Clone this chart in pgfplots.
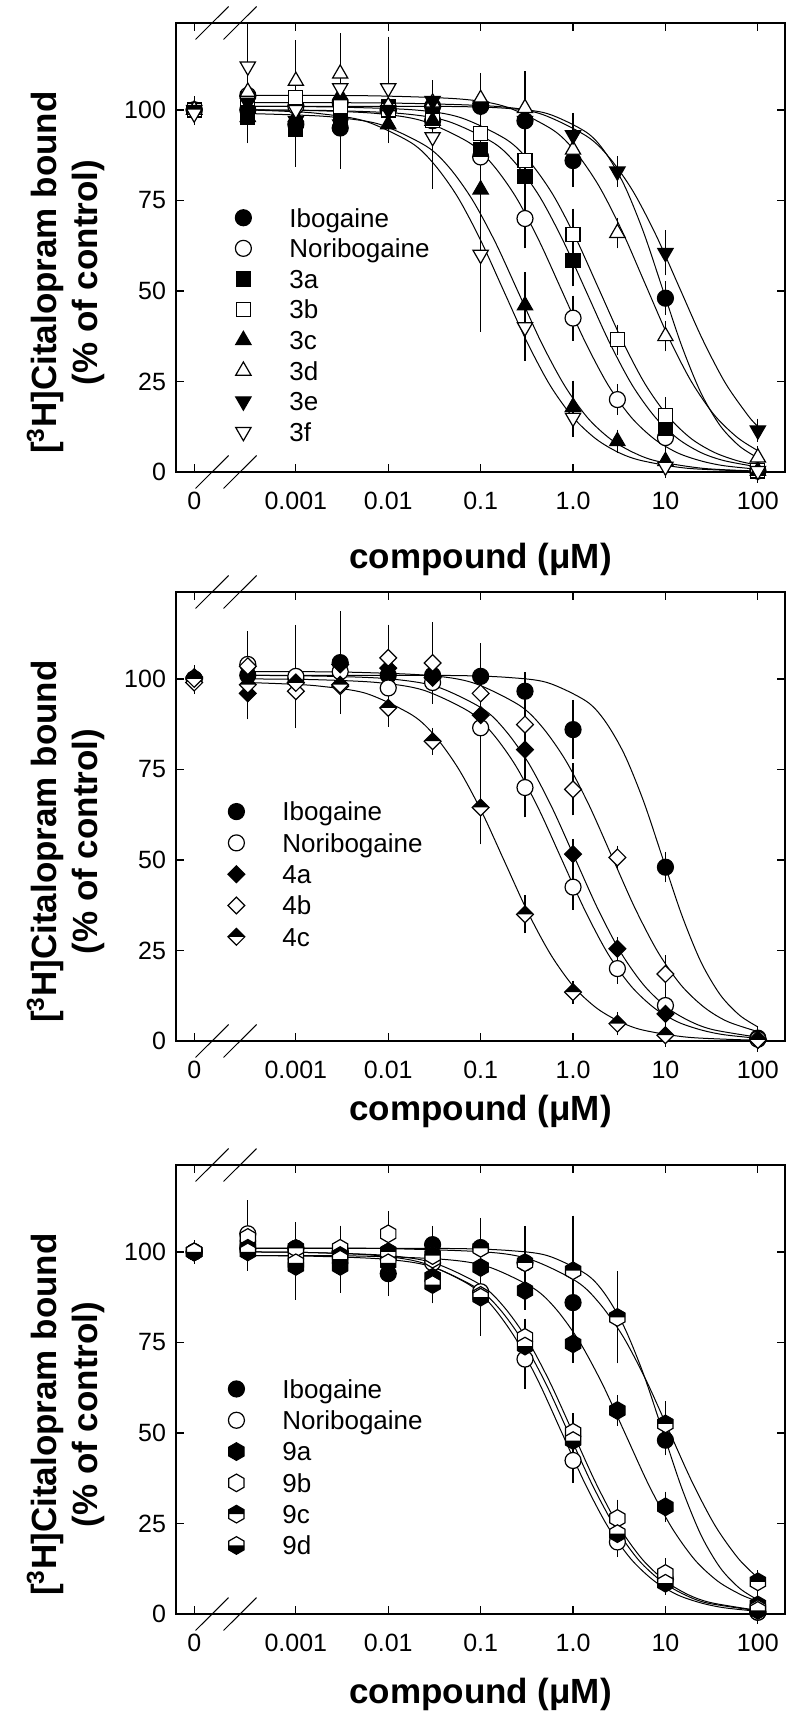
\documentclass[border=0pt]{standalone}
\usepackage{fontspec}
\setmainfont{Liberation Sans}
\usepackage{pgfplots}
\pgfplotsset{compat=1.18}
\usetikzlibrary{plotmarks}

\newcommand{\diapath}{%
  \pgfpathmoveto{\pgfqpoint{0pt}{\pgfplotmarksize}}%
  \pgfpathlineto{\pgfqpoint{\pgfplotmarksize}{0pt}}%
  \pgfpathlineto{\pgfqpoint{0pt}{-\pgfplotmarksize}}%
  \pgfpathlineto{\pgfqpoint{-\pgfplotmarksize}{0pt}}%
  \pgfpathclose}
\newcommand{\hexpath}{%
  \pgfpathmoveto{\pgfqpoint{0pt}{\pgfplotmarksize}}%
  \pgfpathlineto{\pgfqpoint{0.866\pgfplotmarksize}{0.5\pgfplotmarksize}}%
  \pgfpathlineto{\pgfqpoint{0.866\pgfplotmarksize}{-0.5\pgfplotmarksize}}%
  \pgfpathlineto{\pgfqpoint{0pt}{-\pgfplotmarksize}}%
  \pgfpathlineto{\pgfqpoint{-0.866\pgfplotmarksize}{-0.5\pgfplotmarksize}}%
  \pgfpathlineto{\pgfqpoint{-0.866\pgfplotmarksize}{0.5\pgfplotmarksize}}%
  \pgfpathclose}
\pgfdeclareplotmark{dia}{\diapath\pgfusepathqfillstroke}
\pgfdeclareplotmark{diatop}{%
  \diapath\pgfsetfillcolor{white}\pgfusepathqfill
  \pgfpathmoveto{\pgfqpoint{\pgfplotmarksize}{0pt}}%
  \pgfpathlineto{\pgfqpoint{0pt}{\pgfplotmarksize}}%
  \pgfpathlineto{\pgfqpoint{-\pgfplotmarksize}{0pt}}%
  \pgfpathclose\pgfsetfillcolor{black}\pgfusepathqfill
  \diapath\pgfusepathqstroke}
\pgfdeclareplotmark{hex}{\hexpath\pgfusepathqfillstroke}
\pgfdeclareplotmark{hextop}{%
  \hexpath\pgfsetfillcolor{white}\pgfusepathqfill
  \pgfpathmoveto{\pgfqpoint{0.866\pgfplotmarksize}{0pt}}%
  \pgfpathlineto{\pgfqpoint{0.866\pgfplotmarksize}{0.5\pgfplotmarksize}}%
  \pgfpathlineto{\pgfqpoint{0pt}{\pgfplotmarksize}}%
  \pgfpathlineto{\pgfqpoint{-0.866\pgfplotmarksize}{0.5\pgfplotmarksize}}%
  \pgfpathlineto{\pgfqpoint{-0.866\pgfplotmarksize}{0pt}}%
  \pgfpathclose\pgfsetfillcolor{black}\pgfusepathqfill
  \hexpath\pgfusepathqstroke}
\pgfdeclareplotmark{hexbot}{%
  \hexpath\pgfsetfillcolor{white}\pgfusepathqfill
  \pgfpathmoveto{\pgfqpoint{0.866\pgfplotmarksize}{0pt}}%
  \pgfpathlineto{\pgfqpoint{0.866\pgfplotmarksize}{-0.5\pgfplotmarksize}}%
  \pgfpathlineto{\pgfqpoint{0pt}{-\pgfplotmarksize}}%
  \pgfpathlineto{\pgfqpoint{-0.866\pgfplotmarksize}{-0.5\pgfplotmarksize}}%
  \pgfpathlineto{\pgfqpoint{-0.866\pgfplotmarksize}{0pt}}%
  \pgfpathclose\pgfsetfillcolor{black}\pgfusepathqfill
  \hexpath\pgfusepathqstroke}

\pgfplotsset{
  panel/.style={
    scale only axis, width=304.5pt, height=224.5pt,
    xmin=-4.297, xmax=2.294, ymin=0, ymax=124,
    xtick={-4.1,-3,-2,-1,0,1,2},
    xticklabels={0,0.001,0.01,0.1,1.0,10,100},
    ytick={0,25,50,75,100},
    tick align=inside, major tick length=4pt,
    every tick/.style={black, line width=0.6pt},
    axis line style={black, line width=0.75pt},
    ticklabel style={font=\fontsize{12.5}{12.5}\selectfont},
    xticklabel style={yshift=-6.5pt},
    yticklabel style={xshift=-1.5pt},
    /pgf/number format/assume math mode=true,
    clip=false,
    xlabel={compound (μM)},
    ylabel={[\textsuperscript{3}H]Citalopram bound\\(\% of control)},
    ylabel style={font=\bfseries\fontsize{17.5}{20.5}\selectfont, align=center,
      at={(axis description cs:-0.181,0.444)}, anchor=center},
    legend cell align=left,
  },
  leg/.style 2 args={
    legend style={at={#1}, anchor=north west, draw=none, fill=none,
      inner sep=0pt, outer sep=0pt, column sep=0pt, row sep=#2,
      font=\fontsize{13}{13}\selectfont,
      nodes={inner sep=0pt, text height=12pt, text depth=2.7pt}},
  },
  legimg/.style={legend image code/.code={\path[draw=none,fill=none] (0pt,-1pt) rectangle (#1,1pt); \draw[##1] plot coordinates {(0pt,0pt)};}},
  xlab/.style={xlabel style={font=\bfseries\fontsize{17.5}{20.5}\selectfont, at={(axis description cs:0.5,#1)}, anchor=base}},
  dat/.style={only marks, black, line width=0.6pt,
    mark options={solid, line width=0.6pt},
    error bars/y dir=both, error bars/y explicit,
    error bars/error mark options={black, line width=0.6pt, mark size=4pt},
    error bars/error bar style={line width=0.6pt}},
  fit/.style={black, line width=0.5pt, smooth, no marks, forget plot},
  ibo/.style={dat, mark=*, mark size=4pt, mark options={fill=black}},
  nor/.style={dat, mark=*, mark size=4pt, mark options={fill=white}},
  sqb/.style={dat, mark=square*, mark size=3.5pt, mark options={fill=black}},
  sqw/.style={dat, mark=square*, mark size=3.5pt, mark options={fill=white}},
  tub/.style={dat, mark=triangle*, mark size=4.4pt, mark options={fill=black}},
  tuw/.style={dat, mark=triangle*, mark size=4.4pt, mark options={fill=white}},
  tdb/.style={dat, mark=triangle*, mark size=4.4pt, mark options={fill=black, rotate=180}},
  tdw/.style={dat, mark=triangle*, mark size=4.4pt, mark options={fill=white, rotate=180}},
  dib/.style={dat, mark=dia, mark size=4.2pt, mark options={fill=black}},
  diw/.style={dat, mark=dia, mark size=4.2pt, mark options={fill=white}},
  dit/.style={dat, mark=diatop, mark size=4.2pt},
  hxb/.style={dat, mark=hex, mark size=4.4pt, mark options={fill=black}},
  hxw/.style={dat, mark=hex, mark size=4.4pt, mark options={fill=white}},
  hxt/.style={dat, mark=hextop, mark size=4.4pt},
  hxd/.style={dat, mark=hexbot, mark size=4.4pt},
}
\newcommand{\breaks}{%
  \draw[line width=0.5pt] (axis cs:-4.0856,-4.55) -- (axis cs:-3.7284,4.55);
  \draw[line width=0.5pt] (axis cs:-3.7826,-4.55) -- (axis cs:-3.4254,4.55);
  \draw[line width=0.5pt] (axis cs:-4.0856,119.45) -- (axis cs:-3.7284,128.55);
  \draw[line width=0.5pt] (axis cs:-3.7826,119.45) -- (axis cs:-3.4254,128.55);}
\newcommand{\ibofit}{\addplot[fit] coordinates {(-3.52,101) (-2,101) (-1.2,100.9) (-0.70,100.4) (-0.28,99.0) (0.14,93.9) (0.345,88.4) (0.553,79.3) (0.762,66.3) (0.97,50.5) (1.178,34.7) (1.387,21.7) (1.595,12.7) (1.803,7.1) (2,3.9)};}
\newcommand{\norfit}{\addplot[fit] coordinates {(-3.52,100) (-2.8,99.8) (-2.12,99.0) (-1.62,96.9) (-1.12,90.9) (-0.87,84.9) (-0.62,76.0) (-0.37,64.0) (-0.12,50) (0.13,36.0) (0.38,24.0) (0.63,15.1) (0.88,9.1) (1.13,5.3) (1.38,3.1) (1.63,1.75) (2,0.75)};}

\begin{document}
\begin{tikzpicture}
\path[use as bounding box] (0,0) rectangle (395pt,-861pt);

% ---------------- Panel 1 ----------------
\begin{axis}[panel, at={(88pt,-236pt)}, anchor=south west,
  xlab=-0.214, leg={(0.0975,0.599)}{0.6pt}, legimg=23pt]
\ibofit \norfit
\addplot[fit] coordinates {(-3.52,100) (-2.6,99.8) (-1.86,99.0) (-1.36,96.9) (-0.86,90.9) (-0.61,84.9) (-0.36,76.0) (-0.11,64.0) (0.14,50) (0.39,36.0) (0.64,24.0) (0.89,15.1) (1.14,9.1) (1.39,5.3) (1.64,3.1) (2,1.4)};
\addplot[fit] coordinates {(-3.52,101) (-2.6,100.8) (-1.72,100.0) (-1.22,97.9) (-0.72,91.8) (-0.47,85.7) (-0.22,76.7) (0.03,64.6) (0.28,50.5) (0.53,36.4) (0.78,24.3) (1.03,15.3) (1.28,9.2) (1.53,5.4) (1.78,3.1) (2,1.9)};
\addplot[fit] coordinates {(-3.52,99) (-3.0,98.6) (-2.59,98.0) (-2.09,96.0) (-1.59,90.0) (-1.34,84.1) (-1.09,75.2) (-0.84,63.4) (-0.59,49.5) (-0.34,35.6) (-0.09,23.8) (0.16,14.9) (0.41,9.0) (0.66,5.3) (0.91,3.0) (1.41,1.0) (2,0.25)};
\addplot[fit] coordinates {(-3.52,104) (-2.2,103.9) (-1.22,103.0) (-0.72,100.8) (-0.22,94.5) (0.03,88.3) (0.28,79.0) (0.53,66.6) (0.78,52) (1.03,37.4) (1.28,25.0) (1.53,15.7) (1.78,9.5) (2,5.9)};
\addplot[fit] coordinates {(-3.52,102) (-2,101.9) (-0.85,101.0) (-0.35,98.9) (0.15,92.7) (0.4,86.6) (0.65,77.5) (0.9,65.3) (1.15,51) (1.4,36.7) (1.65,24.5) (1.9,15.4) (2,12.6)};
\addplot[fit] coordinates {(-3.52,100) (-3.1,99.6) (-2.75,99.0) (-2.25,96.9) (-1.75,90.9) (-1.5,84.9) (-1.25,76.0) (-1.0,64.0) (-0.75,50) (-0.5,36.0) (-0.25,24.0) (0,15.1) (0.25,9.1) (0.5,5.3) (0.75,3.1) (1.25,1.0) (2,0.2)};

\addplot[ibo] coordinates {(-4.1,100)+-(0,1.5) (-3.52,100)+-(0,3) (-3,96)+-(0,8) (-2.52,95)+-(0,9) (-2,100)+-(0,5) (-1.52,101)+-(0,3) (-1,101)+-(0,6) (-0.52,97)+-(0,4) (0,86)+-(0,5) (1,48)+-(0,2.5) (2,0.3)+-(0,1)};
\addlegendentry{Ibogaine}
\addplot[nor] coordinates {(-4.1,100)+-(0,1) (-3.52,104)+-(0,4) (-3,101)+-(0,6) (-2.52,102)+-(0,8) (-2,100)+-(0,4) (-1.52,97)+-(0,3) (-1,87)+-(0,6) (-0.52,70)+-(0,6) (0,42.5)+-(0,4) (0.48,20)+-(0,2) (1,9.5)+-(0,2) (2,0.3)+-(0,1)};
\addlegendentry{Noribogaine}
\addplot[sqb] coordinates {(-4.1,100)+-(0,1) (-3.52,98)+-(0,5) (-3,94.5)+-(0,8) (-2.52,97)+-(0,6) (-2,101)+-(0,3) (-1.52,98)+-(0,3) (-1,89)+-(0,4) (-0.52,81.5)+-(0,5) (0,58.5)+-(0,5) (1,12)+-(0,3) (2,0.3)+-(0,1)};
\addlegendentry{3a}
\addplot[sqw] coordinates {(-4.1,100)+-(0,1) (-3.52,103)+-(0,4) (-3,103.5)+-(0,9) (-2.52,101)+-(0,8) (-2,100)+-(0,4) (-1.52,97)+-(0,3) (-1,93.5)+-(0,4) (-0.52,86)+-(0,4) (0,65.5)+-(0,5) (0.48,36.5)+-(0,2) (1,15.5)+-(0,3) (2,0.5)+-(0,1)};
\addlegendentry{3b}
\addplot[tub] coordinates {(-4.1,100)+-(0,1) (-3.52,98)+-(0,5) (-3,98)+-(0,6) (-2.52,104)+-(0,6) (-2,96)+-(0,3) (-1.52,97)+-(0,4) (-1,78)+-(0,9) (-0.52,46)+-(0,7) (0,18)+-(0,5) (0.48,8.5)+-(0,1) (1,3)+-(0,2) (2,0.3)+-(0,1)};
\addlegendentry{3c}
\addplot[tuw] coordinates {(-4.1,100)+-(0,1) (-3.52,105)+-(0,6) (-3,108)+-(0,9) (-2.52,110)+-(0,9) (-2,101)+-(0,4) (-1.52,102)+-(0,4) (-1,103)+-(0,5) (-0.52,100.5)+-(0,8) (0,89)+-(0,4) (0.48,66)+-(0,2) (1,37.5)+-(0,2) (2,4)+-(0,1)};
\addlegendentry{3d}
\addplot[tdb] coordinates {(-4.1,100)+-(0,1) (-3.52,102)+-(0,4) (-3,97)+-(0,5) (-2.52,96)+-(0,6) (-2,100)+-(0,3) (-1.52,102.5)+-(0,3) (-1,101)+-(0,3) (-0.52,97)+-(0,3) (0,93)+-(0,4) (0.48,83)+-(0,2) (1,60.5)+-(0,4) (2,11.5)+-(0,1)};
\addlegendentry{3e}
\addplot[tdw] coordinates {(-4.1,99)+-(0,1) (-3.52,112)+-(0,10) (-3,100)+-(0,6) (-2.52,106)+-(0,6) (-2,106)+-(0,12) (-1.52,92.5)+-(0,12) (-1,60)+-(0,19) (-0.52,40)+-(0,7) (0,15)+-(0,3) (1,1.5)+-(0,1) (2,0.3)+-(0,1)};
\addlegendentry{3f}
\breaks
\end{axis}

% ---------------- Panel 2 ----------------
\begin{axis}[panel, at={(88pt,-520.5pt)}, anchor=south west,
  xlab=-0.176, leg={(0.0854,0.5437)}{0.95pt}, legimg=23pt]
\ibofit \norfit
\addplot[fit] coordinates {(-3.52,101) (-2.6,100.7) (-1.98,100.0) (-1.48,97.9) (-0.98,91.8) (-0.73,85.7) (-0.48,76.7) (-0.23,64.6) (0.02,50.5) (0.27,36.4) (0.52,24.3) (0.77,15.3) (1.02,9.2) (1.27,5.4) (1.52,3.1) (2,1.05)};
\addplot[fit] coordinates {(-3.52,102) (-2.5,101.9) (-1.58,101.0) (-1.08,98.9) (-0.58,92.7) (-0.33,86.6) (-0.08,77.5) (0.17,65.3) (0.42,51) (0.67,36.7) (0.92,24.5) (1.17,15.4) (1.42,9.3) (1.67,5.4) (2,2.6)};
\addplot[fit] coordinates {(-3.52,99) (-3.1,98.6) (-2.74,98.0) (-2.24,96.0) (-1.74,90.0) (-1.49,84.1) (-1.24,75.2) (-0.99,63.4) (-0.74,49.5) (-0.49,35.6) (-0.24,23.8) (0.01,14.9) (0.26,9.0) (0.51,5.3) (0.76,3.0) (1.26,1.0) (2,0.2)};

\addplot[ibo] coordinates {(-4.1,100)+-(0,1) (-3.52,101)+-(0,3) (-3,100)+-(0,5) (-2.52,104.5)+-(0,12) (-2,101)+-(0,4) (-1.52,101)+-(0,3) (-1,100.7)+-(0,7) (-0.52,96.6)+-(0,3) (0,86)+-(0,6) (1,48)+-(0,2) (2,0.8)+-(0,1)};
\addlegendentry{Ibogaine}
\addplot[nor] coordinates {(-4.1,100)+-(0,1) (-3.52,104)+-(0,7) (-3,100.7)+-(0,12) (-2.52,102)+-(0,8) (-2,97.5)+-(0,3) (-1.52,99)+-(0,3) (-1,86.5)+-(0,11) (-0.52,70)+-(0,6) (0,42.5)+-(0,4) (0.48,20)+-(0,2) (1,9.8)+-(0,2) (2,0.5)+-(0,1)};
\addlegendentry{Noribogaine}
\addplot[dib] coordinates {(-4.1,100.5)+-(0,1) (-3.52,96)+-(0,5) (-3,99)+-(0,8) (-2.52,104)+-(0,6) (-2,103)+-(0,4) (-1.52,100.3)+-(0,3) (-1,90)+-(0,4) (-0.52,80.5)+-(0,4) (0,51.6)+-(0,2) (0.48,25.5)+-(0,1) (1,7.5)+-(0,1.5) (2,0.5)+-(0,1)};
\addlegendentry{4a}
\addplot[diw] coordinates {(-4.1,99)+-(0,1) (-3.52,103.5)+-(0,4) (-3,96.6)+-(0,8) (-2.52,98)+-(0,4) (-2,105.8)+-(0,7) (-1.52,104.4)+-(0,9) (-1,96)+-(0,5) (-0.52,87.4)+-(0,5) (0,69.5)+-(0,5) (0.48,50.7)+-(0,1) (1,18.5)+-(0,3) (2,0.3)+-(0,1)};
\addlegendentry{4b}
\addplot[dit] coordinates {(-4.1,100)+-(0,1) (-3.52,98.4)+-(0,2) (-3,98.9)+-(0,2) (-2.52,98.4)+-(0,5) (-2,92)+-(0,3) (-1.52,82.8)+-(0,1.5) (-1,64.5)+-(0,8) (-0.52,35)+-(0,3) (0,13.5)+-(0,1) (0.48,4.8)+-(0,1) (1,1.6)+-(0,1) (2,0.3)+-(0,1)};
\addlegendentry{4c}
\breaks
\end{axis}

% ---------------- Panel 3 ----------------
\begin{axis}[panel, at={(88pt,-807pt)}, anchor=south west,
  xlab=-0.200, leg={(0.0861,0.534)}{0.95pt}, legimg=23pt]
\ibofit \norfit
\addplot[fit] coordinates {(-3.52,99) (-2.4,98.9) (-1.43,98.0) (-0.93,96.0) (-0.43,90.0) (-0.18,84.1) (0.07,75.2) (0.32,63.4) (0.57,49.5) (0.82,35.6) (1.07,23.8) (1.32,14.9) (1.57,9.0) (1.82,5.3) (2,3.5)};
\addplot[fit] coordinates {(-3.52,100) (-2.8,99.8) (-2,99.0) (-1.5,96.9) (-1,90.9) (-0.75,84.9) (-0.5,76.0) (-0.25,64.0) (0,50) (0.25,36.0) (0.5,24.0) (0.75,15.1) (1,9.1) (1.25,5.3) (1.5,3.1) (2,1.0)};
\addplot[fit] coordinates {(-3.52,101) (-2.2,101) (-0.96,100.0) (-0.46,97.9) (0.04,91.8) (0.29,85.7) (0.54,76.7) (0.79,64.6) (1.04,50.5) (1.29,36.4) (1.54,24.3) (1.79,15.3) (2,10.0)};
\addplot[fit] coordinates {(-3.52,99) (-2.8,98.8) (-2.04,98.0) (-1.54,96.0) (-1.04,90.0) (-0.79,84.1) (-0.54,75.2) (-0.29,63.4) (-0.04,49.5) (0.21,35.6) (0.46,23.8) (0.71,14.9) (0.96,9.0) (1.21,5.3) (1.46,3.0) (2,0.9)};

\addplot[ibo] coordinates {(-4.1,100)+-(0,1) (-3.52,101)+-(0,3) (-3,101)+-(0,5) (-2.52,100)+-(0,5) (-2,94)+-(0,4) (-1.52,102)+-(0,3) (-1,101.2)+-(0,6) (-0.52,97)+-(0,8) (0,86)+-(0,7) (1,48)+-(0,2) (2,0.5)+-(0,1)};
\addlegendentry{Ibogaine}
\addplot[nor] coordinates {(-4.1,100)+-(0,1) (-3.52,105)+-(0,7) (-3,101)+-(0,5) (-2.52,100)+-(0,5) (-2,98)+-(0,3) (-1.52,97)+-(0,3) (-1,89)+-(0,10) (-0.52,70.4)+-(0,6) (0,42.4)+-(0,4) (0.48,19.9)+-(0,2) (1,9.5)+-(0,2) (2,0.5)+-(0,1)};
\addlegendentry{Noribogaine}
\addplot[hxb] coordinates {(-4.1,100)+-(0,1) (-3.52,102)+-(0,3) (-3,96)+-(0,7) (-2.52,96)+-(0,5) (-2,100)+-(0,3) (-1.52,93)+-(0,3) (-1,95.7)+-(0,4) (-0.52,89.3)+-(0,3) (0,74.6)+-(0,3) (0.48,56.2)+-(0,2) (1,29.6)+-(0,2) (2,2.5)+-(0,1)};
\addlegendentry{9a}
\addplot[hxw] coordinates {(-4.1,100)+-(0,1) (-3.52,104)+-(0,4) (-3,99)+-(0,4) (-2.52,101)+-(0,4) (-2,105)+-(0,4) (-1.52,98)+-(0,3) (-1,88)+-(0,4) (-0.52,76.4)+-(0,3) (0,50.2)+-(0,3) (0.48,26.4)+-(0,3) (1,11.2)+-(0,2) (2,1.5)+-(0,1)};
\addlegendentry{9b}
\addplot[hxt] coordinates {(-4.1,100)+-(0,1) (-3.52,101)+-(0,3) (-3,101)+-(0,4) (-2.52,99)+-(0,4) (-2,100)+-(0,3) (-1.52,99)+-(0,3) (-1,101)+-(0,3) (-0.52,97)+-(0,4) (0,94.8)+-(0,13) (0.48,81.9)+-(0,10.5) (1,52.5)+-(0,4) (2,8.9)+-(0,1)};
\addlegendentry{9c}
\addplot[hxd] coordinates {(-4.1,100)+-(0,1) (-3.52,100)+-(0,3) (-3,97)+-(0,4) (-2.52,98)+-(0,5) (-2,97)+-(0,3) (-1.52,91)+-(0,3) (-1,87.5)+-(0,4) (-0.52,74)+-(0,3) (0,47.9)+-(0,3) (0.48,22.2)+-(0,2) (1,8.5)+-(0,1) (2,1)+-(0,1)};
\addlegendentry{9d}
\breaks
\end{axis}
\end{tikzpicture}
\end{document}
